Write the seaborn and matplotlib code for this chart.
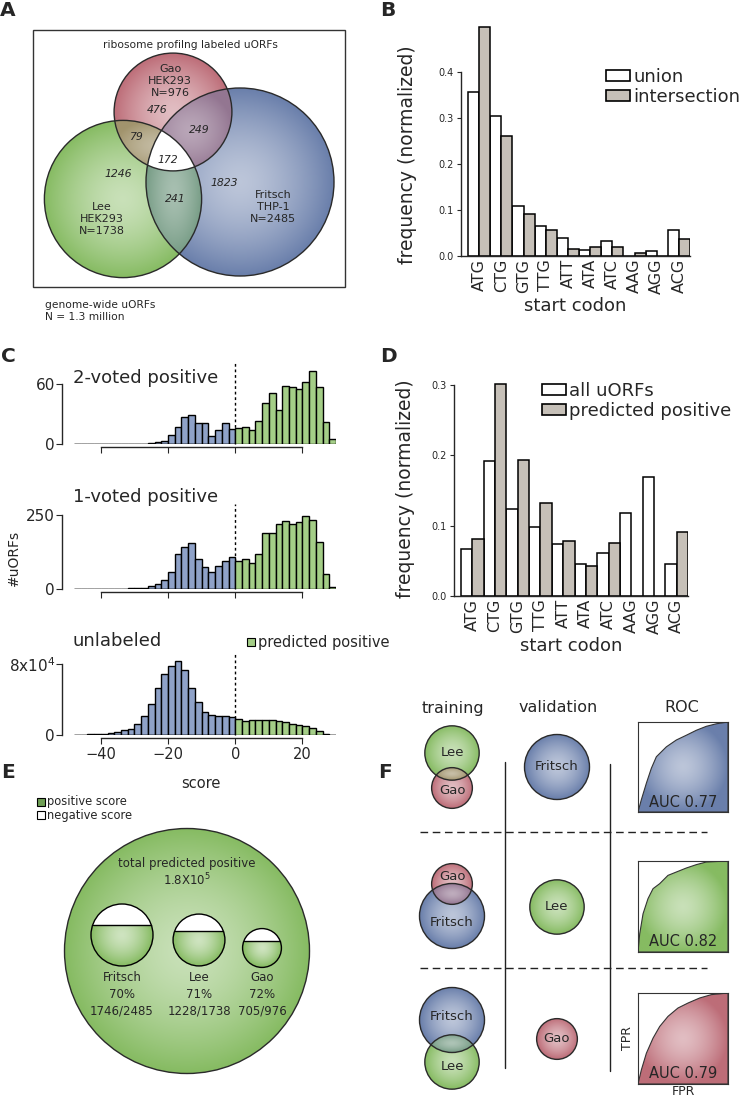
import numpy as np
import pandas as pd
import matplotlib
matplotlib.use("Agg")
import matplotlib.pyplot as plt
import matplotlib.colors as mcolors
from matplotlib.patches import Circle, Rectangle, Polygon, Patch
import seaborn as sns

##################################################################################################
# Data
codons = ["ATG", "CTG", "GTG", "TTG", "ATT", "ATA", "ATC", "AAG", "AGG", "ACG"]
b_union = [0.357, 0.305, 0.108, 0.066, 0.040, 0.013, 0.033, 0.0, 0.010, 0.056]
b_intersection = [0.498, 0.260, 0.092, 0.056, 0.015, 0.020, 0.020, 0.006, 0.0, 0.038]
d_all = [0.067, 0.192, 0.123, 0.098, 0.074, 0.045, 0.061, 0.118, 0.169, 0.046]
d_pred = [0.081, 0.302, 0.193, 0.132, 0.078, 0.043, 0.075, 0.0, 0.0, 0.091]

# score histograms, bins of width 2 from -48 to 30
score_edges = np.arange(-48, 31, 2)
voted2 = [0, 0, 0, 0, 0, 0, 0, 0, 0, 0, 0, 1, 2, 3, 9, 17, 27, 29, 21, 21, 8, 14, 21, 15,
          16, 17, 14, 23, 41, 51, 34, 58, 57, 55, 62, 73, 57, 22, 5]
voted1 = [0, 0, 0, 0, 0, 0, 0, 1, 2, 2, 2, 9, 16, 30, 58, 117, 143, 156, 101, 74, 57, 79, 96, 107,
          94, 101, 89, 117, 190, 188, 221, 230, 219, 228, 247, 232, 158, 51, 7]
unlabeled = [300, 400, 700, 1100, 1500, 2600, 3800, 5300, 6800, 12400, 21900, 35500, 52600, 68800,
             78200, 83000, 73800, 52600, 36700, 26000, 22600, 21100, 21100, 19900,
             17700, 15800, 16600, 16600, 16600, 16600, 15800, 14700, 12800, 11300, 10000, 7800,
             4500, 1500, 0]

# Venn (panel A): Gao, Lee, Fritsch
venn_names = ["Gao", "Lee", "Fritsch"]
venn_cells = ["HEK293", "HEK293", "THP-1"]
venn_sizes = [976, 1738, 2485]
venn_only = [476, 1246, 1823]
gao_lee, gao_fritsch, lee_fritsch, all_three = 79, 249, 241, 172

# panel E: positive scored labeled uORFs
e_names = ["Fritsch", "Lee", "Gao"]
e_positive = [1746, 1228, 705]
e_total = [2485, 1738, 976]

# panel F: ROC curves of the three folds
roc_fpr = [[0, 0.037, 0.093, 0.148, 0.204, 0.315, 0.426, 0.537, 0.648, 0.759, 0.87, 1.0],
           [0, 0.019, 0.056, 0.111, 0.167, 0.241, 0.333, 0.426, 0.537, 0.648, 0.759, 1.0],
           [0, 0.037, 0.093, 0.167, 0.241, 0.333, 0.444, 0.556, 0.685, 0.815, 1.0]]
roc_tpr = [[0, 0.136, 0.32, 0.485, 0.614, 0.724, 0.80, 0.853, 0.908, 0.952, 0.98, 1.0],
           [0, 0.20, 0.42, 0.586, 0.696, 0.751, 0.842, 0.879, 0.923, 0.96, 0.989, 1.0],
           [0, 0.154, 0.338, 0.504, 0.632, 0.743, 0.835, 0.89, 0.945, 0.982, 1.0]]
roc_auc = [0.77, 0.82, 0.79]

##################################################################################################
W, H = 743, 1099
RED, GREEN, BLUE = "#bd6d78", "#86bb62", "#6a7fab"
BAR_BLUE, BAR_GREEN, BAR_GRAY = "#8fa2c8", "#a4ce87", "#c6c0b8"

sns.set_style("ticks")
plt.rcParams["font.family"] = ["DejaVu Sans"]
plt.rcParams["axes.facecolor"] = "none"
plt.rcParams["axes.linewidth"] = 1.0

fig = plt.figure(figsize=(W / 100, H / 100), dpi=100)


def px_axes(left, top, right, bottom):
    return fig.add_axes([left / W, 1 - bottom / H, (right - left) / W, (bottom - top) / H])


def radial_rgba(color, light=0.6, alpha=1.0, n=200):
    rgb = np.array(mcolors.to_rgb(color))
    yy, xx = np.mgrid[-1:1:n * 1j, -1:1:n * 1j]
    rr = np.clip(np.hypot(xx, yy), 0, 1)
    t = (1 - light) + light * rr ** 1.5
    img = np.ones((n, n, 4))
    img[..., :3] = 1 - (1 - rgb) * t[..., None]
    img[..., 3] = alpha
    return img


def mix(c1, c2):
    return tuple((np.array(mcolors.to_rgb(c1)) + np.array(mcolors.to_rgb(c2))) / 2)


def shaded_circle(ax, c, r, color, light=0.6, z=2):
    clip = Circle(c, r, facecolor="none", edgecolor="none")
    ax.add_patch(clip)
    im = ax.imshow(radial_rgba(color, light), extent=(c[0] - r, c[0] + r, c[1] + r, c[1] - r),
                   interpolation="bilinear", zorder=z)
    im.set_clip_path(clip)
    ax.add_patch(Circle(c, r, fill=False, edgecolor="#2a2a2a", lw=1.0, zorder=6))


def region_pts(circles):
    # outline of the area shared by all given circles
    pts = []
    t = np.linspace(0, 2 * np.pi, 720, endpoint=False)
    for i, (c, r) in enumerate(circles):
        p = np.column_stack([c[0] + r * np.cos(t), c[1] + r * np.sin(t)])
        keep = np.ones(len(p), bool)
        for j, (c2, r2) in enumerate(circles):
            if j != i:
                keep &= np.hypot(p[:, 0] - c2[0], p[:, 1] - c2[1]) <= r2 + 0.01
        pts.append(p[keep])
    pts = np.vstack(pts)
    mid = pts.mean(0)
    return pts[np.argsort(np.arctan2(pts[:, 1] - mid[1], pts[:, 0] - mid[0]))]


def shaded_region(ax, pts, color, light=0.35, z=3):
    poly = Polygon(pts, facecolor="none", edgecolor="none")
    ax.add_patch(poly)
    x0, y0 = pts.min(0)
    x1, y1 = pts.max(0)
    im = ax.imshow(radial_rgba(color, light), extent=(x0, x1, y1, y0), interpolation="bilinear", zorder=z)
    im.set_clip_path(poly)


##################################################################################################
# B and D: start codon bar charts
def codon_bars(ax, first, second, names, ymax, yticks, legend_xy, xleft):
    df = pd.DataFrame({"codon": codons * 2, "freq": first + second,
                       "set": [names[0]] * len(codons) + [names[1]] * len(codons)})
    sns.barplot(data=df, x="codon", y="freq", hue="set", palette=["white", BAR_GRAY],
                edgecolor="black", linewidth=1.1, width=1.0, saturation=1, legend=False, ax=ax)
    ax.set_xlim(xleft, 9.5)
    ax.set_ylim(0, ymax)
    ax.set_yticks(yticks)
    ax.set_yticklabels([f"{v:.1f}" for v in yticks])
    ax.spines["top"].set_visible(False)
    ax.spines["right"].set_visible(False)
    ax.spines["left"].set_bounds(0, yticks[-1])
    ax.tick_params(axis="x", length=0, labelrotation=90, labelsize=11.5, pad=2)
    ax.tick_params(axis="y", length=3, labelsize=7, pad=2)
    ax.set_xlabel("start codon", fontsize=13, labelpad=2)
    ax.set_ylabel("frequency (normalized)", fontsize=13.5)
    handles = [Patch(facecolor="white", edgecolor="black", lw=1.2),
               Patch(facecolor=BAR_GRAY, edgecolor="black", lw=1.2)]
    ax.legend(handles, names, loc="upper left", bbox_to_anchor=(legend_xy[0] / W, 1 - legend_xy[1] / H),
              bbox_transform=fig.transFigure, frameon=False, fontsize=13, handlelength=1.35,
              handleheight=0.55, handletextpad=0.15, labelspacing=0.12, borderpad=0, borderaxespad=0)


axB = px_axes(461, 26, 690, 256)
codon_bars(axB, b_union, b_intersection, ["union", "intersection"], 0.5,
           [0.0, 0.1, 0.2, 0.3, 0.4], (606, 68), -0.82)
axB.yaxis.set_label_coords(-0.19, 0.44)

axD = px_axes(454, 381.5, 688, 596)
codon_bars(axD, d_all, d_pred, ["all uORFs", "predicted positive"], 0.305,
           [0.0, 0.1, 0.2, 0.3], (542, 382), -0.81)
axD.yaxis.set_label_coords(-0.167, 0.5)

##################################################################################################
# C: score histograms
centers = score_edges[:-1] + 1


def score_hist(ax, counts, ymax, ytop, ytoplabel, show_x):
    hist_df = pd.DataFrame({"score": centers, "n": counts})
    neg = hist_df["score"] < 0
    for part, col in [(hist_df[neg], BAR_BLUE), (hist_df[~neg], BAR_GREEN)]:
        sns.histplot(data=part, x="score", weights="n", binwidth=2,
                     binrange=(score_edges[0], score_edges[-1]), color=col, alpha=1,
                     edgecolor="black", linewidth=1.0, ax=ax)
    ax.axvline(0, ymin=0, ymax=1.08, color="black", ls=(0, (2, 2)), lw=1, zorder=0, clip_on=False)
    ax.set_xlim(-48, 30)
    ax.set_ylim(0, ymax)
    ax.set_xlabel("")
    ax.set_ylabel("")
    ax.spines["top"].set_visible(False)
    ax.spines["right"].set_visible(False)
    ax.spines["left"].set_position(("outward", 8.6))
    ax.spines["bottom"].set_position(("outward", 2.5))
    ax.spines["left"].set_bounds(0, ytop)
    ax.spines["bottom"].set_bounds(-40, 20)
    ax.set_yticks([0, ytop])
    ax.set_yticklabels(["0", ytoplabel])
    ax.set_xticks([-40, -20, 0, 20])
    ax.tick_params(axis="y", length=4, labelsize=11, pad=1)
    ax.tick_params(axis="x", length=4, labelsize=10.5, labelbottom=show_x, pad=2)


axC1 = px_axes(74, 368.6, 336, 444)
score_hist(axC1, voted2, 75, 60, "60", False)
axC2 = px_axes(74, 510.6, 336, 589)
score_hist(axC2, voted1, 265, 250, "250", False)
axC3 = px_axes(74, 658.7, 336, 735)
score_hist(axC3, unlabeled, 86000, 80000, "8x10$^4$", True)

##################################################################################################
# F: ROC insets
roc_colors = [BLUE, GREEN, RED]
roc_boxes = [(638, 722, 728, 812), (638, 861, 728, 952), (638, 993, 728, 1084)]
for k in range(3):
    ax = px_axes(*roc_boxes[k])
    ax.set_xlim(0, 1)
    ax.set_ylim(0, 1)
    poly = Polygon(np.column_stack([roc_fpr[k] + [1.0], roc_tpr[k] + [0.0]]), closed=True,
                   facecolor="none", edgecolor="#333333", lw=0.8, zorder=3)
    ax.add_patch(poly)
    im = ax.imshow(radial_rgba(roc_colors[k], 0.55), extent=(0, 1, 0, 1), interpolation="bilinear", zorder=1)
    im.set_clip_path(poly)
    ax.set_aspect("auto")
    ax.set_xticks([])
    ax.set_yticks([])
    for s in ax.spines.values():
        s.set_color("#333333")
        s.set_linewidth(0.8)
    ax.text(0.5, 0.11, f"AUC {roc_auc[k]:.2f}", transform=ax.transAxes, ha="center", va="center", fontsize=10.5)
    if k == 2:
        ax.set_ylabel("TPR", fontsize=9, labelpad=3)
        ax.set_xlabel("FPR", fontsize=9, labelpad=1)

##################################################################################################
# Overlay in pixel coordinates: panel letters, A, E, F drawings
ov = fig.add_axes([0, 0, 1, 1])
ov.set_zorder(10)
ov.axis("off")

for letter, x, y in [("A", 0, 10), ("B", 380, 10), ("C", 1, 357), ("D", 380, 357), ("E", 1, 773), ("F", 378, 773)]:
    ov.text(x, y, letter, fontsize=14.5, fontweight="bold", ha="left", va="center")

# ---- A: Venn diagram
ov.add_patch(Rectangle((33, 30), 312, 257, fill=False, edgecolor="#333333", lw=1.0, zorder=1))
ov.text(190, 45, "ribosome profilng labeled uORFs", fontsize=7.7, ha="center", va="center")
venn_centers = [(173, 112), (123, 199), (240, 182)]
venn_radii = [94 * np.sqrt(n / venn_sizes[2]) for n in venn_sizes]
venn_colors = [RED, GREEN, BLUE]
venn_circles = list(zip(venn_centers, venn_radii))
for i in range(3):
    shaded_circle(ov, venn_centers[i], venn_radii[i], venn_colors[i], light=0.55, z=2)
for i, j in [(0, 1), (0, 2), (1, 2)]:
    shaded_region(ov, region_pts([venn_circles[i], venn_circles[j]]), mix(venn_colors[i], venn_colors[j]))
ov.add_patch(Polygon(region_pts(venn_circles), facecolor="white", edgecolor="none", zorder=4))

label_pos = [(170, 81), (102, 219), (273, 207)]
for i in range(3):
    ov.text(*label_pos[i], f"{venn_names[i]}\n{venn_cells[i]}\nN={venn_sizes[i]}", fontsize=8,
            ha="center", va="center", linespacing=1.25, zorder=8)
count_pos = [(157, 110), (118, 174), (224, 183)]
for i in range(3):
    ov.text(*count_pos[i], str(venn_only[i]), fontsize=7.8, style="italic", ha="center", va="center", zorder=8)
for (x, y), v in [((137, 137), gao_lee), ((199, 130), gao_fritsch), ((175, 199), lee_fritsch), ((168, 160), all_three)]:
    ov.text(x, y, str(v), fontsize=7.8, style="italic", ha="center", va="center", zorder=8)
ov.text(45, 311, "genome-wide uORFs\nN = 1.3 million", fontsize=7.7, ha="left", va="center", linespacing=1.3)

# ---- C legend and axis labels
ov.add_patch(Rectangle((247, 638), 8, 8, facecolor=BAR_GREEN, edgecolor="black", lw=0.8))
ov.text(258, 642, "predicted positive", fontsize=10.5, ha="left", va="center")
ov.text(73, 378, "2-voted positive", fontsize=13, ha="left", va="center")
ov.text(73, 497, "1-voted positive", fontsize=13, ha="left", va="center")
ov.text(73, 641, "unlabeled", fontsize=13, ha="left", va="center")
ov.text(14, 558, "#uORFs", fontsize=10, rotation=90, ha="center", va="center")
ov.text(201, 783, "score", fontsize=10.5, ha="center", va="center")

# ---- E: predicted positive circles
ov.add_patch(Rectangle((37, 798), 8, 8, facecolor="#6f9f55", edgecolor="black", lw=0.8))
ov.add_patch(Rectangle((37, 811), 8, 8, facecolor="white", edgecolor="black", lw=0.8))
ov.text(47, 802, "positive score", fontsize=8.3, ha="left", va="center")
ov.text(47, 815, "negative score", fontsize=8.3, ha="left", va="center")

shaded_circle(ov, (187, 951), 122.5, GREEN, light=0.55, z=1)
ov.text(187, 863, "total predicted positive", fontsize=8.5, ha="center", va="center", zorder=9)
ov.text(187, 880, "1.8X10$^5$", fontsize=8.5, ha="center", va="center", zorder=9)

# fraction of a circle lying below a chord at height u*r above the centre
u_grid = np.linspace(-1, 1, 401)
frac_grid = 0.5 + (np.arcsin(u_grid) + u_grid * np.sqrt(1 - u_grid ** 2)) / np.pi
e_x = [122, 199, 262]
e_y = [935, 940, 948]
for k in range(3):
    r = 31 * np.sqrt(e_total[k] / e_total[0])
    cx, cy = e_x[k], e_y[k]
    u = np.interp(e_positive[k] / e_total[k], frac_grid, u_grid)
    ov.add_patch(Circle((cx, cy), r, facecolor="white", edgecolor="none", zorder=5))
    a = np.arcsin(u)
    th = np.linspace(-a, np.pi + a, 120)
    seg = Polygon(np.column_stack([cx + r * np.cos(th), cy + r * np.sin(th)]), closed=True,
                  facecolor="none", edgecolor="none")
    ov.add_patch(seg)
    im = ov.imshow(radial_rgba(GREEN, 0.6), extent=(cx - r, cx + r, cy + r, cy - r), interpolation="bilinear", zorder=6)
    im.set_clip_path(seg)
    yl = cy - u * r
    half = r * np.sqrt(1 - u ** 2)
    ov.plot([cx - half, cx + half], [yl, yl], color="black", lw=1.0, zorder=7)
    ov.add_patch(Circle((cx, cy), r, fill=False, edgecolor="black", lw=1.0, zorder=7))
    pct = round(100 * e_positive[k] / e_total[k])
    ov.text(cx, 994, f"{e_names[k]}\n{pct}%\n{e_positive[k]}/{e_total[k]}", fontsize=8.5,
            ha="center", va="center", linespacing=1.35, zorder=9)

# ---- F: cross validation scheme
ov.text(453, 708, "training", fontsize=11.5, ha="center", va="center")
ov.text(558, 708, "validation", fontsize=11.5, ha="center", va="center")
ov.text(682, 708, "ROC", fontsize=11.5, ha="center", va="center")
for y in [832, 968]:
    ov.plot([420, 707], [y, y], color="#222222", lw=1.0, ls=(0, (5.5, 3.3)))
ov.plot([505, 505], [762, 1068], color="#222222", lw=1.0)
ov.plot([610, 610], [764, 1071], color="#222222", lw=1.0)

f_r = {n: 32.5 * np.sqrt(s / venn_sizes[2]) for n, s in zip(venn_names, venn_sizes)}
f_col = {"Gao": RED, "Lee": GREEN, "Fritsch": BLUE}
folds = [[("Lee", (452, 753), 752), ("Gao", (452, 788), 791)],
         [("Fritsch", (452, 916), 922), ("Gao", (452, 884), 876)],
         [("Fritsch", (452, 1020), 1016), ("Lee", (452, 1062), 1067)]]
valid = [("Fritsch", (557, 767)), ("Lee", (557, 907)), ("Gao", (557, 1039))]
for k in range(3):
    for name, c, ty in folds[k]:
        shaded_circle(ov, c, f_r[name], f_col[name], light=0.55, z=2)
        ov.text(c[0], ty, name, fontsize=9.5, ha="center", va="center", zorder=9)
    (n1, c1, _), (n2, c2, _) = folds[k]
    shaded_region(ov, region_pts([(c1, f_r[n1]), (c2, f_r[n2])]), mix(f_col[n1], f_col[n2]), light=0.4)
    name, c = valid[k]
    shaded_circle(ov, c, f_r[name], f_col[name], light=0.55, z=2)
    ov.text(c[0], c[1], name, fontsize=9.5, ha="center", va="center", zorder=9)

ov.set_xlim(0, W)
ov.set_ylim(H, 0)
ov.set_aspect("auto")

fig.savefig("out.png", dpi=100)
